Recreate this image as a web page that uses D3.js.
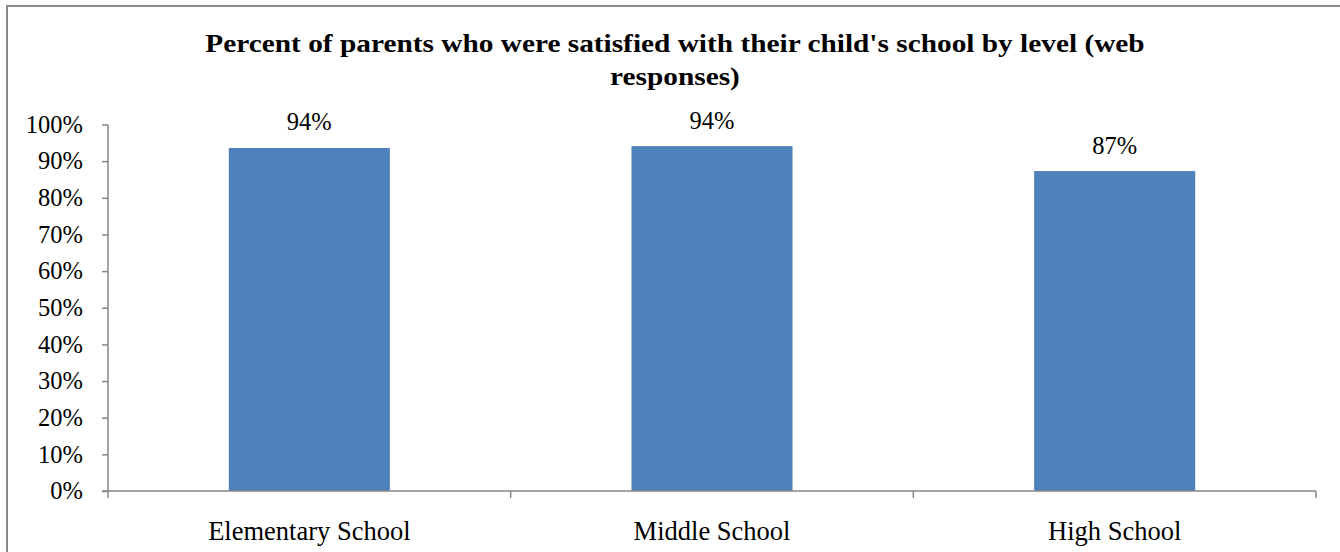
<!DOCTYPE html>
<html>
<head>
<meta charset="utf-8">
<script src="https://cdn.jsdelivr.net/npm/d3@7"></script>
<style>
  html, body { margin: 0; padding: 0; background: #fff; }
  svg { display: block; }
  text { font-family: "Liberation Serif", "Times New Roman", serif; fill: #000; }
</style>
</head>
<body>
<svg id="chart" width="1340" height="552"></svg>
<script>
const categories = ["Elementary School", "Middle School", "High School"];
const values = [0.936, 0.941, 0.873];
const valueLabels = ["94%", "94%", "87%"];
const yTicks = [0, 0.1, 0.2, 0.3, 0.4, 0.5, 0.6, 0.7, 0.8, 0.9, 1.0];
const titleLines = ["Percent of parents who were satisfied with their child's school by level (web", "responses)"];

(function () {
const svg = d3.select("#chart");
const axisColor = "#868686";
const serif = "'Liberation Serif', 'Times New Roman', serif";

// outer frame
svg.append("rect")
  .attr("x", 7).attr("y", 6)
  .attr("width", 1400).attr("height", 600)
  .attr("fill", "none").attr("stroke", "#8a8a8a").attr("stroke-width", 2);

const pLeft = 108, pRight = 1316, pTop = 124.5, pBottom = 491;

const x = d3.scaleBand().domain(categories).range([pLeft, pRight]).padding(0);
const y = d3.scaleLinear().domain([0, 1]).range([pBottom, pTop]);

// title (stretched horizontally to match reference width)
const tg = svg.append("g").attr("transform", "translate(675,0)");
const tt = tg.append("text")
  .attr("text-anchor", "middle")
  .attr("font-family", serif)
  .attr("font-weight", "bold").attr("font-size", 25.5);
tt.selectAll("tspan").data(titleLines).join("tspan")
  .attr("x", 0)
  .attr("y", (d, i) => 52 + i * 33)
  .text(d => d);
const w1 = tt.select("tspan").node().getComputedTextLength();
const k = w1 > 0 ? 940 / w1 : 1;
tg.attr("transform", `translate(675,0) scale(${k},1)`);

// bars
const barW = x.bandwidth() * 0.4;
svg.append("g").selectAll("rect").data(categories).join("rect")
  .attr("x", (d) => x(d) + (x.bandwidth() - barW) / 2)
  .attr("y", (d, i) => y(values[i]))
  .attr("width", barW)
  .attr("height", (d, i) => y(0) - y(values[i]))
  .attr("fill", "#4F81BD");

// data labels
svg.append("g").selectAll("text").data(categories).join("text")
  .attr("x", d => x(d) + x.bandwidth() / 2)
  .attr("y", (d, i) => y(values[i]) - 17.5)
  .attr("text-anchor", "middle")
  .attr("font-family", serif)
  .attr("font-size", 24.5)
  .text((d, i) => valueLabels[i]);

// y axis
const yAxis = d3.axisLeft(y).tickValues(yTicks).tickFormat(d3.format(".0%")).tickSize(6).tickPadding(19);
const gy = svg.append("g").attr("transform", `translate(${pLeft},0)`).call(yAxis);
gy.select(".domain").attr("stroke", axisColor).attr("stroke-width", 1.5).attr("d", `M0,${pTop}V${pBottom}`);
gy.selectAll(".tick line").attr("stroke", axisColor).attr("stroke-width", 1.5);
gy.selectAll(".tick text").attr("font-size", 24.5).attr("font-family", serif).attr("fill", "#000").attr("dy", "0.32em");

// x axis
const xAxis = d3.axisBottom(x).tickSize(0).tickPadding(30);
const gx = svg.append("g").attr("transform", `translate(0,${pBottom})`).call(xAxis);
gx.select(".domain").attr("stroke", axisColor).attr("stroke-width", 1.5).attr("d", `M${pLeft - 6},0H${pRight}`);
gx.selectAll(".tick text").attr("font-size", 26.5).attr("font-family", serif).attr("fill", "#000").attr("dy", "0.71em");
// category boundary ticks
const bounds = categories.map(c => x(c)).concat([pRight]);
gx.append("g").selectAll("line").data(bounds).join("line")
  .attr("x1", d => d).attr("x2", d => d)
  .attr("y1", 0).attr("y2", 7)
  .attr("stroke", axisColor).attr("stroke-width", 1.5);
})();
</script>
</body>
</html>
